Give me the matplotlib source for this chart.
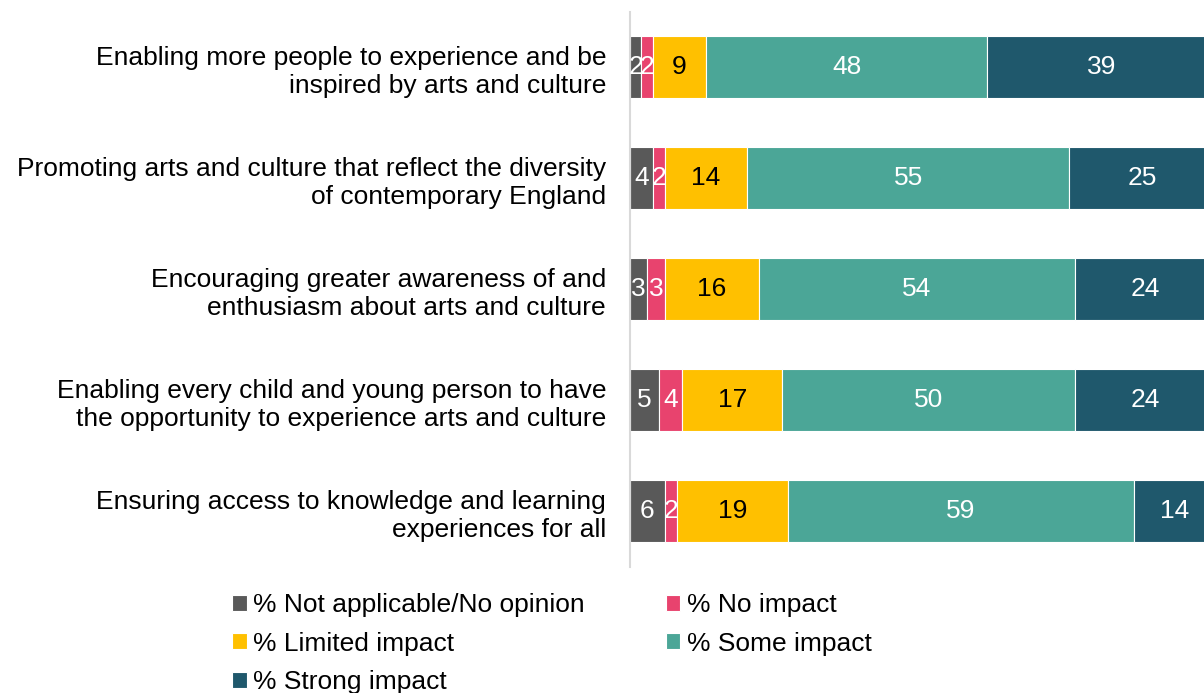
import numpy as np
import matplotlib.pyplot as plt

plt.rcParams['font.family'] = ['Liberation Sans', 'DejaVu Sans']

# Survey results, percent of respondents per impact level
categories = [
    "Enabling more people to experience and be\ninspired by arts and culture",
    "Promoting arts and culture that reflect the diversity\nof contemporary England",
    "Encouraging greater awareness of and\nenthusiasm about arts and culture",
    "Enabling every child and young person to have\nthe opportunity to experience arts and culture",
    "Ensuring access to knowledge and learning\nexperiences for all",
]
not_applicable = [2, 4, 3, 5, 6]
no_impact = [2, 2, 3, 4, 2]
limited_impact = [9, 14, 16, 17, 19]
some_impact = [48, 55, 54, 50, 59]
strong_impact = [39, 25, 24, 24, 14]

series = [
    ("% Not applicable/No opinion", not_applicable, "#595959", "white"),
    ("% No impact", no_impact, "#E8436E", "white"),
    ("% Limited impact", limited_impact, "#FFC000", "black"),
    ("% Some impact", some_impact, "#4BA697", "white"),
    ("% Strong impact", strong_impact, "#1F586C", "white"),
]

fig = plt.figure(figsize=(12.04, 6.93), dpi=100)
ax = fig.add_axes([0.523, 0.182, 0.487, 0.801])

y = np.arange(len(categories))
left = np.zeros(len(categories))
handles = []
for name, vals, color, tcolor in series:
    vals = np.array(vals, dtype=float)
    bars = ax.barh(y, vals, left=left, height=0.56, color=color,
                   edgecolor="white", linewidth=0.8, label=name)
    handles.append(bars)
    for yi, l, v in zip(y, left, vals):
        ax.text(l + v / 2, yi, f"{int(v)}", ha="center", va="center",
                color=tcolor, fontsize=19)
    left += vals

ax.set_xlim(0, 100)
ax.set_ylim(len(categories) - 0.5, -0.5)
ax.set_yticks(y)
ax.set_yticklabels(categories, fontsize=19, linespacing=1.2)
ax.tick_params(axis="y", length=0, pad=17)
ax.set_xticks([])
for side in ["top", "right", "bottom"]:
    ax.spines[side].set_visible(False)
ax.spines["left"].set_color("#D9D9D9")
ax.spines["left"].set_linewidth(1.5)

# legend laid out row by row
order = [0, 2, 4, 1, 3]
fig.legend([handles[i] for i in order], [series[i][0] for i in order],
           loc="upper left", bbox_to_anchor=(0.193, 0.144),
           ncol=2, frameon=False, fontsize=19, handlelength=0.55,
           handleheight=0.55, handletextpad=0.25, columnspacing=3.05,
           labelspacing=0.55, borderpad=0, borderaxespad=0)

fig.savefig("out.png", dpi=100)
